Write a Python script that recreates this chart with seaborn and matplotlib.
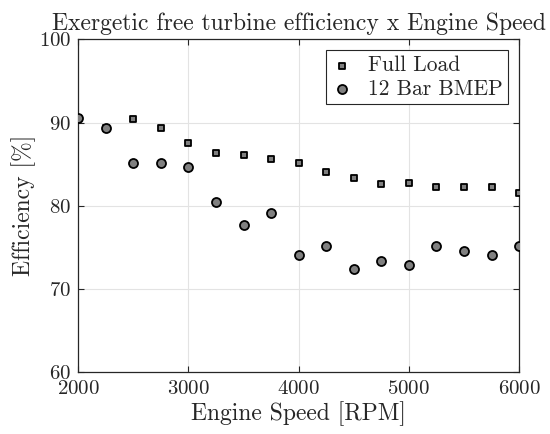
import numpy as np
import pandas as pd
import matplotlib
matplotlib.use("Agg")
import matplotlib.pyplot as plt
import seaborn as sns

# dados
rpm = [2000, 2250, 2500, 2750, 3000, 3250, 3500, 3750, 4000,
       4250, 4500, 4750, 5000, 5250, 5500, 5750, 6000]
full_load = [90.6, 89.4, 90.4, 89.4, 87.6, 86.4, 86.1, 85.6, 85.1,
             84.1, 83.3, 82.6, 82.7, 82.3, 82.3, 82.3, 81.5]
bmep_12 = [90.6, 89.4, 85.1, 85.1, 84.7, 80.4, 77.7, 79.1, 74.1,
           75.1, 72.4, 73.3, 72.9, 75.1, 74.5, 74.1, 75.2]

df = pd.DataFrame({
    "rpm": rpm * 2,
    "eff": full_load + bmep_12,
    "serie": ["Full Load"] * len(rpm) + ["12 Bar BMEP"] * len(rpm),
})

sns.set_style("ticks")
plt.rcParams["font.family"] = ["cmr10", "DejaVu Serif"]
plt.rcParams["axes.formatter.use_mathtext"] = True
plt.rcParams["mathtext.fontset"] = "cm"

fig = plt.figure(figsize=(5.5, 4.34), dpi=100)
ax = fig.add_axes([0.142, 0.143, 0.802, 0.766])

sq = df[df["serie"] == "Full Load"]
ci = df[df["serie"] == "12 Bar BMEP"]
sns.scatterplot(data=sq, x="rpm", y="eff", marker="s", s=20, color="#808080",
                edgecolor="black", linewidth=1.3, label="Full Load", ax=ax, zorder=3)
sns.scatterplot(data=ci, x="rpm", y="eff", marker="o", s=42, color="#808080",
                edgecolor="black", linewidth=1.3, label="12 Bar BMEP", ax=ax, zorder=4)

ax.set_xlim(2000, 6000)
ax.set_ylim(60, 100)
ax.set_xticks([2000, 3000, 4000, 5000, 6000])
ax.set_yticks([60, 70, 80, 90, 100])
ax.grid(True, color="#e3e3e3", linewidth=0.8, zorder=0)
ax.set_axisbelow(True)
ax.tick_params(direction="in", top=True, right=True, labelsize=15, length=4,
               color="#262626")
ax.tick_params(axis="y", pad=5)
ax.tick_params(axis="x", pad=6)
for sp in ax.spines.values():
    sp.set_visible(True)
    sp.set_color("#262626")
    sp.set_linewidth(0.9)

ax.set_xlabel("Engine Speed [RPM]", fontsize=17, labelpad=2)
ax.set_ylabel("Efficiency [%]", fontsize=17, labelpad=2)
ax.set_title("Exergetic free turbine efficiency x Engine Speed", fontsize=17, pad=7)

leg = ax.legend(loc="upper right", fontsize=15.5, frameon=True, fancybox=False,
                edgecolor="#262626", framealpha=1, borderaxespad=0.5,
                handlelength=1.0, handletextpad=0.7, labelspacing=0.2,
                borderpad=0.25)
leg.get_frame().set_linewidth(0.8)

fig.savefig("out.png", dpi=100)
